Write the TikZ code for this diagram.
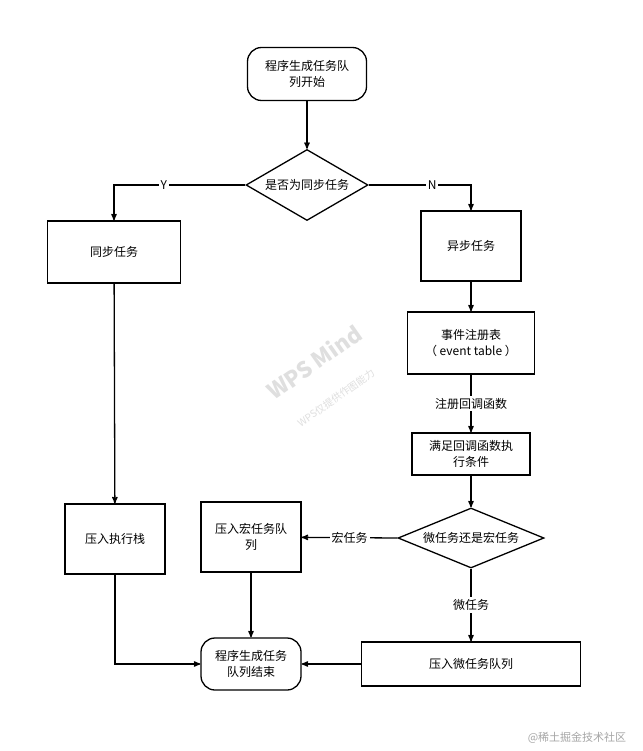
\documentclass[tikz,border=0pt]{standalone}
\usepackage{fontspec}
\setmainfont{Noto Sans CJK SC}
\usetikzlibrary{arrows,shapes.geometric,positioning}
\begin{document}
\begin{tikzpicture}[->,>=stealth',x=1pt,y=-1pt,line width=1.3pt,
  font=\fontsize{12}{16}\selectfont]
\tikzstyle{box}=[draw,rectangle,align=center,inner sep=2pt]
\tikzstyle{term}=[draw,rectangle,rounded corners=14pt,align=center]
\tikzstyle{dec}=[draw,diamond,aspect=1.8,inner sep=0pt,align=center]
\tikzstyle{lbl}=[fill=white,inner sep=2pt]
\useasboundingbox[fill=white] (0,0) rectangle (642,751);

\node[term,minimum width=119pt,minimum height=53pt] (start) at (307,74) {程序生成任务队\\列开始};
\node[dec,minimum width=122pt,minimum height=71pt] (sync?) at (307,185) {是否为同步任务};
\node[box,minimum width=133pt,minimum height=62pt] (sync) at (114,252) {同步任务};
\node[box,minimum width=100pt,minimum height=70pt] (async) at (471,246) {异步任务};
\node[box,minimum width=127pt,minimum height=62pt] (table) at (471,343) {事件注册表\\（ event table ）};
\node[box,minimum width=118pt,minimum height=42pt] (cond) at (471,454) {满足回调函数执\\行条件};
\node[dec,minimum width=146pt,minimum height=60pt,aspect=2.4] (kind) at (471,538) {微任务还是宏任务};
\node[box,minimum width=100pt,minimum height=70pt] (macro) at (251,537) {压入宏任务队\\列};
\node[box,minimum width=100pt,minimum height=70pt] (stack) at (115,539) {压入执行栈};
\node[box,minimum width=219pt,minimum height=44pt] (micro) at (471,664) {压入微任务队列};
\node[term,minimum width=100pt,minimum height=52pt] (end) at (251,664) {程序生成任务\\队列结束};

\draw (sync?.west) -- node[lbl,pos=0.62]{Y} (114,185) -- (sync);
\draw (start) -- (sync?);
\draw (sync?.east) -- node[lbl,pos=0.62]{N} (471,185) -- (async);
\draw (async) -- (table);
\draw (table) -- node[lbl]{注册回调函数} (cond);
\draw (cond) -- (kind);
\draw (kind.west) -- node[lbl]{宏任务} (macro);
\draw (kind) -- node[lbl]{微任务} (micro);
\draw (sync) -- (stack);
\draw (stack) |- (end);
\draw (macro) -- (end);
\draw (micro) -- (end);

\node[text=gray!25,rotate=35,font=\bfseries\fontsize{22}{24}\selectfont] (wm) at (314,362) {WPS Mind};
\node[text=gray!25,rotate=35,font=\fontsize{10}{12}\selectfont] (wmnote) at (336,398) {WPS仅提供作图能力};
\node[text=gray!70,font=\fontsize{11}{13}\selectfont] (credit) at (577,738) {@稀土掘金技术社区};
\end{tikzpicture}
\end{document}
